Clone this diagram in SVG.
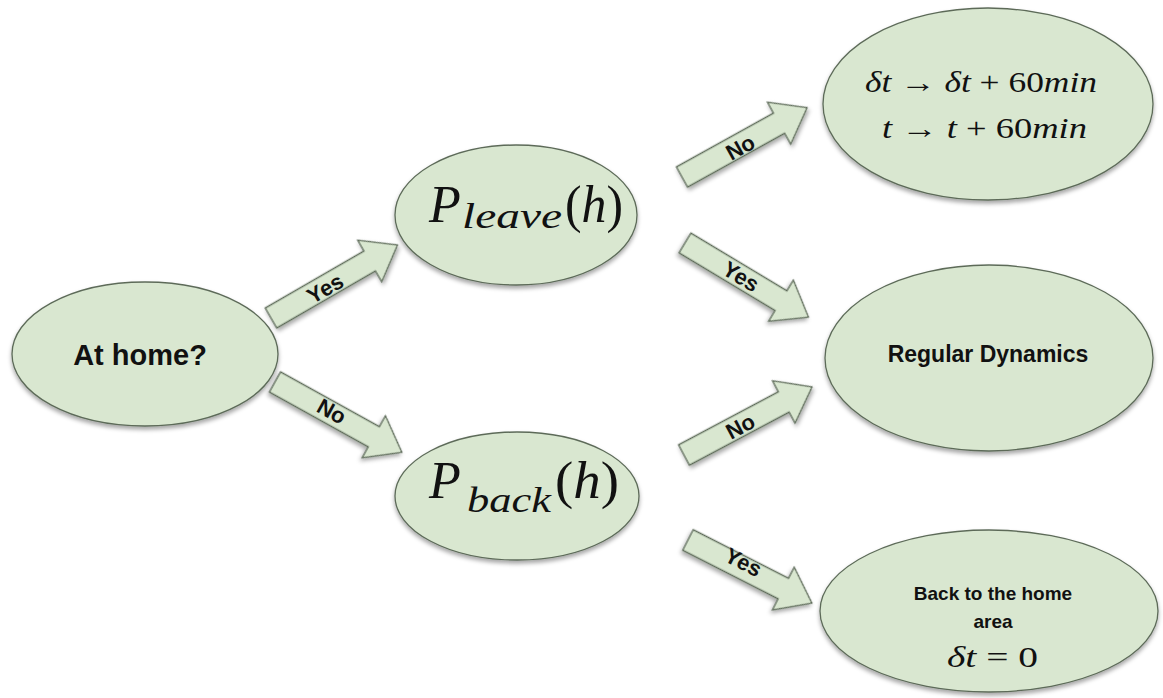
<svg xmlns="http://www.w3.org/2000/svg" width="1163" height="698" viewBox="0 0 1163 698">
<defs>
  <filter id="sh" x="-10%" y="-10%" width="120%" height="130%">
    <feDropShadow dx="0" dy="3" stdDeviation="2.2" flood-color="#000" flood-opacity="0.35"/>
  </filter>
</defs>
<style>
  .node { fill: #d9e7d0; stroke: #5d6b59; stroke-width: 1.3; filter: url(#sh); }
  .arrow { fill: #d9e7d0; stroke: #5d6b59; stroke-width: 1.3; filter: url(#sh); }
  .lbl { font-family: "Liberation Sans", Arial, sans-serif; font-weight: bold; fill: #111; text-anchor: middle; }
  .alab { font-family: "Liberation Sans", Arial, sans-serif; font-weight: bold; font-size: 22px; fill: #111; text-anchor: middle; }
  .math { font-family: "Liberation Serif", "Times New Roman", serif; fill: #111; }
  .it { font-style: italic; }
</style>
<rect width="1163" height="698" fill="#ffffff"/>

<g id="connectors">
  <g transform="translate(271,318) rotate(-30)">
    <polygon class="arrow" points="0,-11.5 114,-11.5 114,-24 146,0 114,24 114,11.5 0,11.5"/>
  </g>
  <text class="alab" transform="translate(329,295) rotate(-30)">Yes</text>

  <g transform="translate(275,382) rotate(29)">
    <polygon class="arrow" points="0,-11.5 113,-11.5 113,-24 145,0 113,24 113,11.5 0,11.5"/>
  </g>
  <text class="alab" transform="translate(328,418) rotate(29)">No</text>

  <g transform="translate(682,177) rotate(-29)">
    <polygon class="arrow" points="0,-11.5 111,-11.5 111,-24 143,0 111,24 111,11.5 0,11.5"/>
  </g>
  <text class="alab" transform="translate(744,154) rotate(-29)">No</text>

  <g transform="translate(685,243) rotate(31)">
    <polygon class="arrow" points="0,-11.5 112,-11.5 112,-24 144,0 112,24 112,11.5 0,11.5"/>
  </g>
  <text class="alab" transform="translate(737,283) rotate(31)">Yes</text>

  <g transform="translate(684,455) rotate(-28)">
    <polygon class="arrow" points="0,-11.5 113,-11.5 113,-24 145,0 113,24 113,11.5 0,11.5"/>
  </g>
  <text class="alab" transform="translate(744,433) rotate(-28)">No</text>

  <g transform="translate(688,540) rotate(27)">
    <polygon class="arrow" points="0,-11.5 107,-11.5 107,-24 139,0 107,24 107,11.5 0,11.5"/>
  </g>
  <text class="alab" transform="translate(740,569) rotate(27)">Yes</text>
</g>

<g id="node-home">
  <ellipse class="node" cx="145" cy="354" rx="133" ry="72"/>
  <text class="lbl" x="140" y="365" font-size="29">At home?</text>
</g>

<g id="node-leave">
  <ellipse class="node" cx="516" cy="215" rx="121" ry="70"/>
  <text class="math it" x="429" y="222" font-size="52">P</text>
  <text class="math it" x="462" y="228" font-size="35" textLength="100" lengthAdjust="spacingAndGlyphs">leave</text>
  <text class="math" x="565" y="222" font-size="52" textLength="58" lengthAdjust="spacingAndGlyphs">(<tspan class="it">h</tspan>)</text>
</g>

<g id="node-back">
  <ellipse class="node" cx="517" cy="496" rx="122" ry="64"/>
  <text class="math it" x="429" y="498" font-size="52">P</text>
  <text class="math it" x="467" y="512" font-size="35" textLength="84" lengthAdjust="spacingAndGlyphs">back</text>
  <text class="math" x="555" y="498" font-size="52" textLength="64" lengthAdjust="spacingAndGlyphs">(<tspan class="it">h</tspan>)</text>
</g>

<g id="node-time">
  <ellipse class="node" cx="988" cy="104" rx="165" ry="96"/>
  <text class="math" x="865" y="92" font-size="29" textLength="232" lengthAdjust="spacingAndGlyphs"><tspan class="it">δt</tspan> → <tspan class="it">δt</tspan> + 60<tspan class="it">min</tspan></text>
  <text class="math" x="882" y="138" font-size="29" textLength="205" lengthAdjust="spacingAndGlyphs"><tspan class="it">t</tspan> → <tspan class="it">t</tspan> + 60<tspan class="it">min</tspan></text>
</g>

<g id="node-regular">
  <ellipse class="node" cx="989" cy="358" rx="164" ry="93"/>
  <text class="lbl" x="988" y="362" font-size="23">Regular Dynamics</text>
</g>

<g id="node-backhome">
  <ellipse class="node" cx="989" cy="611" rx="169" ry="81"/>
  <text class="lbl" x="993" y="600" font-size="19">Back to the home</text>
  <text class="lbl" x="993" y="628" font-size="19">area</text>
  <text class="math" x="947" y="667" font-size="30" textLength="91" lengthAdjust="spacingAndGlyphs"><tspan class="it">δt</tspan> = 0</text>
</g>
</svg>
